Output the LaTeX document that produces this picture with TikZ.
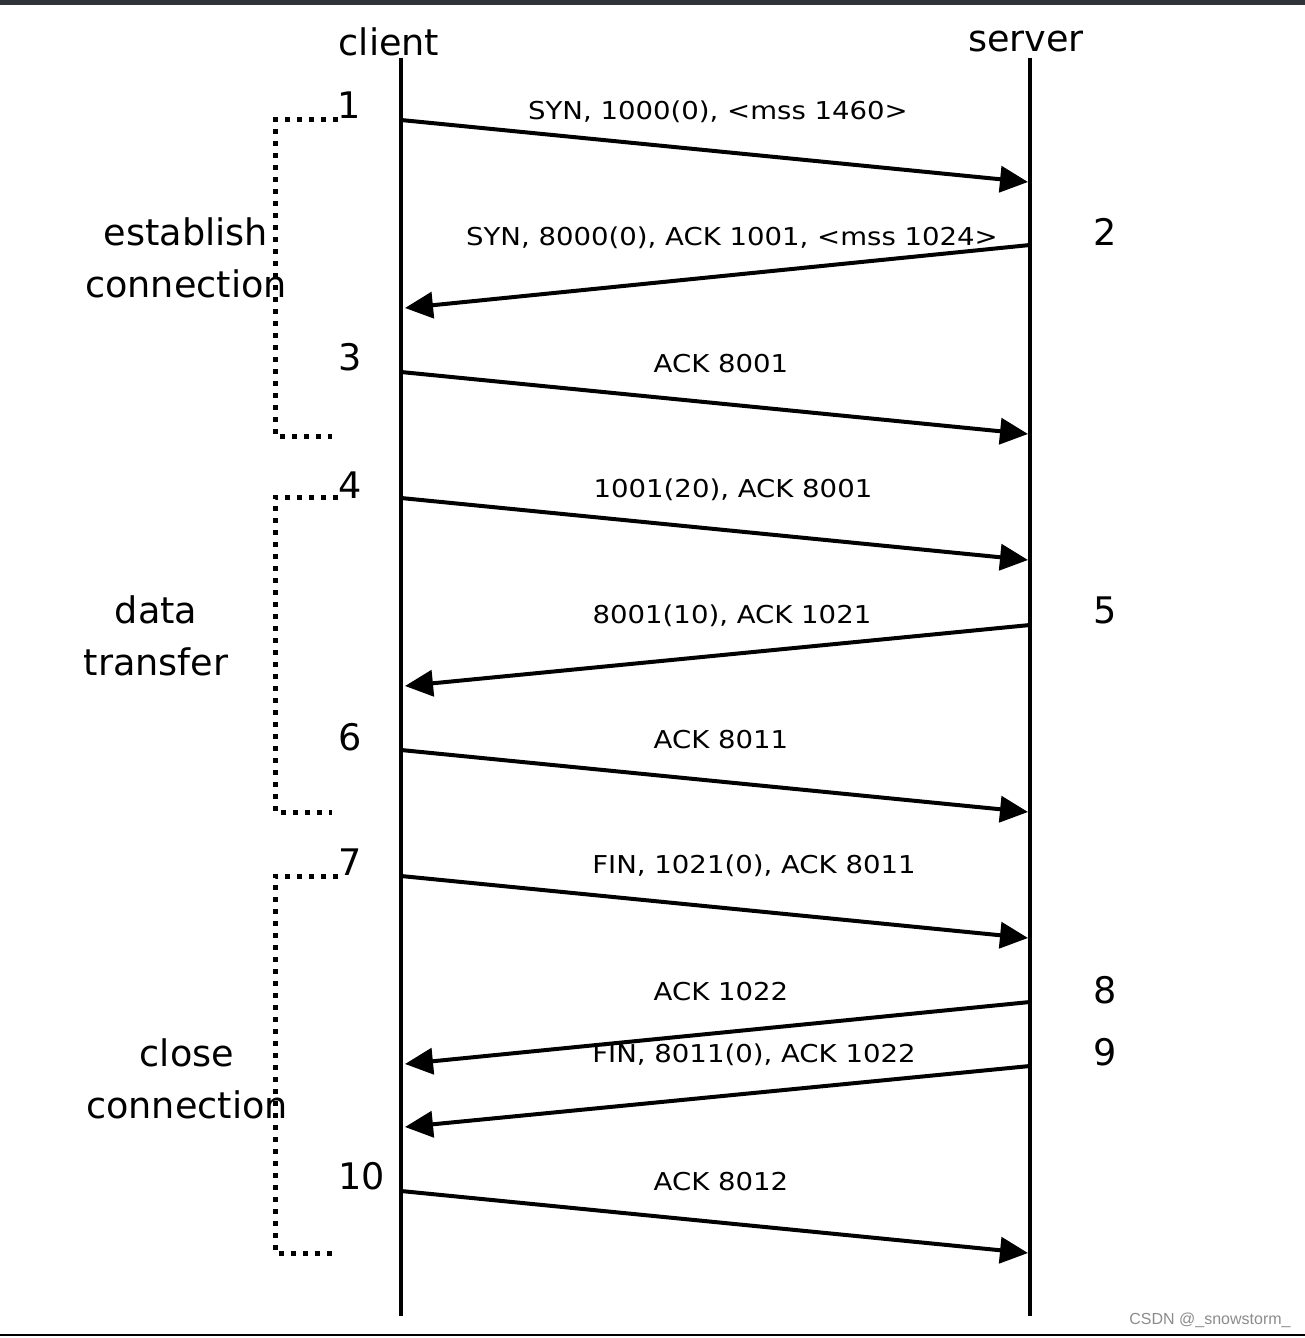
\documentclass[tikz,border=0pt]{standalone}
\usepackage{fontspec}
\usepackage{graphicx}
\setmainfont{DejaVu Sans}
\newfontfamily\wmfont{Liberation Sans}
\usetikzlibrary{arrows.meta}
\definecolor{topbar}{HTML}{303438}
\newcommand{\widetext}[1]{\scalebox{1.12}[1]{#1}}
\begin{document}
\begin{tikzpicture}[x=0.5pt,y=-0.5pt,
 life/.style={line width=2pt},
 msg/.style={line width=2pt,-{Triangle[length=14pt,width=13pt]}},
 lbl/.style={font=\fontsize{12.3}{14}\selectfont,inner sep=0},
 big/.style={font=\fontsize{18.3}{26}\selectfont,inner sep=0,align=center},
 brk/.style={line width=2.5pt,dash pattern=on 2.5pt off 3.5pt}]
\useasboundingbox (0,0) rectangle (1305,1338);
\fill[white] (0,0) rectangle (1305,1338);
\fill[topbar] (0,0) rectangle (1305,5);
\draw[line width=1pt] (0,1335) -- (1305,1335);
\node[font=\wmfont\fontsize{8}{10}\selectfont,text=black!45,inner sep=0] (wm) at (1210,1320) {CSDN @\_snowstorm\_};

% lifelines
\node[big] (client) at (389,42) {client};
\node[big] (server) at (1026,42) {server};
\coordinate (ct) at (401,58); \coordinate (cb) at (401,1316);
\coordinate (st) at (1030,58); \coordinate (sb) at (1030,1316);
\draw[life] (ct) -- (cb);
\draw[life] (st) -- (sb);

% message endpoints
\coordinate (c1) at (401,120);  \coordinate (s1) at (1028,182);
\coordinate (s2) at (1030,245); \coordinate (c2) at (405,308);
\coordinate (c3) at (401,372);  \coordinate (s3) at (1028,434);
\coordinate (c4) at (401,498);  \coordinate (s4) at (1028,560);
\coordinate (s5) at (1030,625); \coordinate (c5) at (405,686);
\coordinate (c6) at (401,750);  \coordinate (s6) at (1028,812);
\coordinate (c7) at (401,876);  \coordinate (s7) at (1028,938);
\coordinate (s8) at (1030,1002);\coordinate (c8) at (405,1064);
\coordinate (s9) at (1030,1066);\coordinate (c9) at (405,1127);
\coordinate (c10) at (401,1191);\coordinate (s10) at (1028,1253);

\draw[msg] (c1) -- (s1);
\draw[msg] (s2) -- (c2);
\draw[msg] (c3) -- (s3);
\draw[msg] (c4) -- (s4);
\draw[msg] (s5) -- (c5);
\draw[msg] (c6) -- (s6);
\draw[msg] (c7) -- (s7);
\draw[msg] (s8) -- (c8);
\draw[msg] (s9) -- (c9);
\draw[msg] (c10) -- (s10);

% message labels
\node[lbl] (m1) at (718,112) {\widetext{SYN, 1000(0), <mss 1460>}};
\node[lbl] (m2) at (732,238) {\widetext{SYN, 8000(0), ACK 1001, <mss 1024>}};
\node[lbl] (m3) at (721,364) {\widetext{ACK 8001}};
\node[lbl] (m4) at (733,490) {\widetext{1001(20), ACK 8001}};
\node[lbl] (m5) at (732,616) {\widetext{8001(10), ACK 1021}};
\node[lbl] (m6) at (721,740) {\widetext{ACK 8011}};
\node[lbl] (m7) at (754,866) {\widetext{FIN, 1021(0), ACK 8011}};
\node[lbl] (m8) at (721,992) {\widetext{ACK 1022}};
\node[lbl] (m9) at (754,1055) {\widetext{FIN, 8011(0), ACK 1022}};
\node[lbl] (m10) at (721,1182) {\widetext{ACK 8012}};

% step numbers
\node[big] (n1) at (349,105) {1};
\node[big] (n2) at (1105,232) {2};
\node[big] (n3) at (350,357) {3};
\node[big] (n4) at (350,485) {4};
\node[big] (n5) at (1105,610) {5};
\node[big] (n6) at (350,737) {6};
\node[big] (n7) at (350,862) {7};
\node[big] (n8) at (1105,990) {8};
\node[big] (n9) at (1105,1052) {9};
\node[big] (n10) at (362,1176) {10};

% phase brackets
\draw[brk] (338,120) -- (275,120) -- (275,436) -- (332,436);
\draw[brk] (338,497) -- (275,497) -- (275,812) -- (332,812);
\draw[brk] (338,876) -- (275,876) -- (275,1253) -- (332,1253);

\node[big] (p1) at (186,258) {establish\\connection};
\node[big] (p2) at (156,636) {data\\transfer};
\node[big] (p3) at (187,1079) {close\\connection};
\end{tikzpicture}
\end{document}
